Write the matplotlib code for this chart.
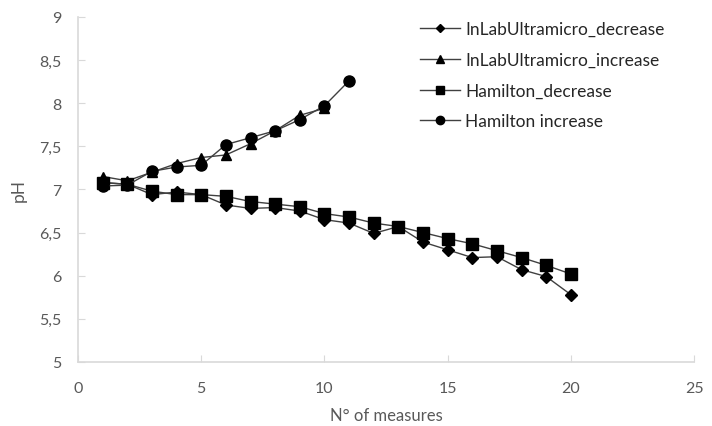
import matplotlib
matplotlib.use("Agg")
from matplotlib import pyplot as plt
from matplotlib.ticker import FuncFormatter

# pH readings per measure number
x_dec = list(range(1, 21))
inlab_dec = [7.08, 7.06, 6.94, 6.97, 6.94, 6.82, 6.78, 6.79, 6.75, 6.65,
             6.61, 6.49, 6.57, 6.39, 6.30, 6.21, 6.22, 6.07, 5.99, 5.78]
ham_dec = [7.08, 7.06, 6.98, 6.94, 6.94, 6.92, 6.86, 6.83, 6.80, 6.72,
           6.68, 6.61, 6.57, 6.50, 6.43, 6.37, 6.29, 6.21, 6.12, 6.02]

x_inlab_inc = list(range(1, 11))
inlab_inc = [7.15, 7.10, 7.20, 7.30, 7.37, 7.40, 7.53, 7.68, 7.86, 7.94]

x_ham_inc = list(range(1, 12))
ham_inc = [7.04, 7.05, 7.21, 7.26, 7.28, 7.52, 7.60, 7.68, 7.81, 7.97, 8.26]

labels = ['InLabUltramicro_decrease', 'InLabUltramicro_increase',
          'Hamilton_decrease', 'Hamilton increase']

plt.rcParams['font.family'] = ['Lato', 'DejaVu Sans']
txt = '#595959'
ax_col = '#d9d9d9'
line_col = '#404040'

fig = plt.figure(figsize=(7.12, 4.27), dpi=100)
ax = fig.add_axes([0.1096, 0.15, 0.8652, 0.808])

ax.plot(x_dec, inlab_dec, color=line_col, lw=1, marker='D', ms=6,
        mfc='black', mec='black', label=labels[0])
ax.plot(x_inlab_inc, inlab_inc, color=line_col, lw=1, marker='^', ms=7,
        mfc='black', mec='black', label=labels[1])
ax.plot(x_dec, ham_dec, color=line_col, lw=1, marker='s', ms=8,
        mfc='black', mec='black', label=labels[2])
ax.plot(x_ham_inc, ham_inc, color=line_col, lw=1, marker='o', ms=8,
        mfc='black', mec='black', label=labels[3])

ax.set_xlim(0, 25)
ax.set_ylim(5, 9)
ax.set_xticks(range(0, 26, 5))
ax.set_yticks([5 + 0.5 * i for i in range(9)])
ax.yaxis.set_major_formatter(FuncFormatter(lambda v, p: ('%g' % v).replace('.', ',')))

for s in ['top', 'right']:
    ax.spines[s].set_visible(False)
for s in ['left', 'bottom']:
    ax.spines[s].set_color(ax_col)
    ax.spines[s].set_linewidth(1.2)
ax.tick_params(direction='in', length=5, color=ax_col, labelcolor=txt,
               labelsize=11.5)
ax.tick_params(axis='x', pad=14)
ax.tick_params(axis='y', pad=12)

ax.set_xlabel('N° of measures', color=txt, fontsize=12, labelpad=8)
ax.set_ylabel('pH', color=txt, fontsize=12.5, labelpad=9)

leg = fig.legend(loc='upper left', bbox_to_anchor=(0.59, 0.948), frameon=False,
                 fontsize=12.5, handlelength=2.3, labelspacing=0.85,
                 handletextpad=0.3, borderpad=0, borderaxespad=0,
                 markerscale=0.75)
for t in leg.get_texts():
    t.set_color('#262626')

fig.savefig('out.png', dpi=100)
